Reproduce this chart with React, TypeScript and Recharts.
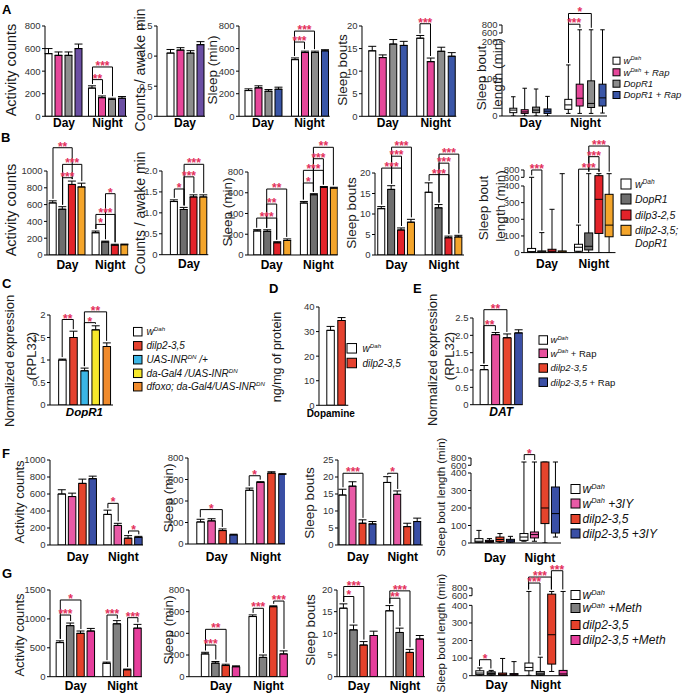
import { ComposedChart, Bar, Cell, XAxis, YAxis, ErrorBar, ReferenceLine } from 'recharts';

const FONT = '"Liberation Sans", Arial, Helvetica, sans-serif';
const STAR = '#e3305c';

const dayNight = ['Day', 'Night'];

// ---------- A ----------
const aColors = ['#ffffff', '#e6479a', '#8d8d8d', '#6b4fa3'];
const aColorsBlue = ['#ffffff', '#e6479a', '#8d8d8d', '#3a56a7'];
const aLegend = [['w', '^Dah'], ['w', '^Dah', ' + Rap'], ['DopR1'], ['DopR1 + Rap']];
const aActivity = [[555, 540, 540, 600], [250, 165, 150, 160]];
const aActivityErr = [[45, 30, 30, 40], [20, 15, 10, 15]];
const aCounts = [[1.05, 1.1, 1.05, 1.19]];
const aCountsErr = [[0.06, 0.04, 0.04, 0.05]];
const aSleep = [[228, 252, 222, 240], [502, 565, 565, 580]];
const aSleepErr = [[15, 18, 15, 18], [15, 12, 12, 10]];
const aBouts = [[14.5, 13.0, 16.0, 15.7], [17.3, 12.1, 14.4, 13.3]];
const aBoutsErr = [[1.0, 0.6, 1.0, 0.9], [0.6, 0.8, 0.9, 0.8]];
// [min, q1, median, q3, max]
const aBoutLen = [
  [[0, 9, 16, 21, 52], [0, 7, 11, 17, 75], [0, 9, 16, 24, 73], [0, 7, 13, 19, 53]],
  [[7, 18, 30, 45, 138], [7, 27, 48, 86, 680], [7, 23, 34, 95, 680], [8, 27, 49, 86, 680]],
];
// significance: [group, bar a, bar b, bracket level (axis units), stars]
const aActivitySig = [[1, 0, 1, 325, '**'], [1, 0, 2, 437, '***']];
const aSleepSig = [[1, 0, 1, 658, '***'], [1, 0, 2, 755, '***']];
const aBoutsSig = [[1, 0, 1, 20.5, '***']];
const aBoutLenSig = [[1, 0, 1, 248, '***'], [1, 0, 2, 277, '*']];

// ---------- B ----------
const bColors = ['#ffffff', '#6e6e6e', '#e3232a', '#f4a52b'];
const bLegend = [['w', '^Dah'], ['DopR1'], ['dilp3-2,5'], ['dilp2-3,5;', '|DopR1']];
const bActivity = [[620, 545, 840, 810], [265, 155, 118, 122]];
const bActivityErr = [[25, 30, 40, 45], [20, 10, 10, 8]];
const bActivitySig = [[0, 0, 2, 1277, '**'], [0, 1, 3, 1079, '***'], [0, 1, 2, 920, '***'], [1, 1, 2, 730, '*'], [1, 0, 2, 483, '***'], [1, 0, 1, 364, '*']];
const bCounts = [[1.27, 1.08, 1.38, 1.38]];
const bCountsErr = [[0.04, 0.05, 0.05, 0.05]];
const bCountsSig = [[0, 0, 1, 1.57, '*'], [0, 1, 2, 1.86, '***'], [0, 1, 3, 2.16, '***']];
const bSleep = [[232, 228, 118, 140], [501, 581, 652, 645]];
const bSleepErr = [[12, 15, 10, 15], [15, 10, 8, 8]];
const bSleepSig = [[0, 0, 2, 356, '***'], [0, 1, 2, 491, '**'], [0, 1, 3, 636, '**'], [1, 0, 1, 694, '*'], [1, 0, 2, 816, '***'], [1, 1, 2, 928, '***'], [1, 1, 3, 1038, '**']];
const bBouts = [[11.3, 16.0, 6.1, 8.0], [15.3, 11.5, 4.2, 4.4]];
const bBoutsErr = [[0.5, 0.9, 0.5, 0.7], [2.3, 0.8, 0.4, 0.4]];
const bBoutsSig = [[0, 0, 2, 21.2, '***'], [0, 1, 2, 24.1, '***'], [0, 1, 3, 26.3, '***'], [1, 0, 2, 19.6, '***'], [1, 1, 2, 22.4, '***'], [1, 1, 3, 24.6, '***']];
const bBoutLen = [
  [[0, 2, 6, 25, 600], [0, 1, 4, 10, 120], [0, 2, 8, 20, 260], [0, 1, 4, 10, 700]],
  [[5, 8, 32, 50, 165], [0, 16, 38, 118, 700], [0, 115, 320, 645, 700], [0, 95, 165, 350, 700]],
];
const bBoutLenSig = [[0, 0, 1, 496, '***'], [1, 0, 2, 501, '***'], [1, 1, 2, 576, '***'], [1, 1, 3, 640, '***']];

// ---------- C / D / E ----------
const cColors = ['#ffffff', '#e5422f', '#3bb6e6', '#f6e82b', '#f08b2d'];
const cLegend = [['w', '^Dah'], ['dilp2-3,5'], ['UAS-INR', '^DN', ' /+'], ['da-Gal4 /UAS-INR', '^DN'], ['dfoxo; da-Gal4/UAS-INR', '^DN']];
const cExpr = [[1.0, 1.5, 0.76, 1.67, 1.3]];
const cExprErr = [[0.02, 0.14, 0.06, 0.09, 0.08]];
const cSig = [[0, 0, 1, 1.9, '**'], [0, 2, 3, 1.83, '*'], [0, 2, 4, 2.07, '**']];

const dColors = ['#ffffff', '#e5422f'];
const dLegend = [['w', '^Dah'], ['dilp2-3,5']];
const dDopamine = [[30.5, 34.5]];
const dDopamineErr = [[1.6, 1.2]];

const eColors = ['#ffffff', '#e8509e', '#e8452e', '#3b4fa5'];
const eLegend = [['w', '^Dah'], ['w', '^Dah', '~ + Rap'], ['dilp2-3,5'], ['dilp2-3,5', '~ + Rap']];
const eDat = [[1.01, 2.02, 1.93, 2.07]];
const eDatErr = [[0.12, 0.06, 0.11, 0.09]];
const eSig = [[0, 0, 1, 2.28, '**'], [0, 0, 2, 2.74, '**']];

// ---------- F ----------
const fColors = ['#ffffff', '#e85aa6', '#e5442d', '#3a4fa5'];
const fLegend = [['w', '^Dah'], ['w', '^Dah', ' +3IY'], ['dilp2-3,5'], ['dilp2-3,5 +3IY']];
const fActivity = [[600, 570, 725, 780], [360, 230, 80, 90]];
const fActivityErr = [[50, 40, 50, 30], [50, 25, 30, 12]];
const fActivitySig = [[1, 0, 1, 490, '*'], [1, 2, 3, 165, '*']];
const fSleep = [[205, 215, 125, 85], [500, 572, 660, 648]];
const fSleepErr = [[25, 20, 15, 6], [20, 8, 12, 6]];
const fSleepSig = [[0, 0, 2, 320, '*'], [1, 0, 1, 635, '*']];
const fBouts = [[14.7, 17.3, 6.4, 6.2], [18.4, 14.9, 5.4, 6.9]];
const fBoutsErr = [[1.7, 1.3, 1.0, 0.7], [1.7, 1.0, 1.0, 1.0]];
const fBoutsSig = [[0, 0, 2, 21.1, '***'], [1, 0, 1, 21.1, '*']];
const fBoutLen = [
  [[0, 4, 10, 25, 72], [0, 4, 9, 15, 25], [0, 8, 20, 34, 54], [0, 5, 12, 21, 38]],
  [[10, 15, 34, 54, 690], [10, 29, 48, 63, 690], [0, 111, 200, 690, 690], [34, 57, 168, 320, 690]],
];
const fBoutLenSig = [[1, 0, 1, 505, '*']];

// ---------- G ----------
const gColors = ['#ffffff', '#808080', '#e5412b', '#e63e9c'];
const gLegend = [['w', '^Dah'], ['w', '^Dah', ' +Meth'], ['dilp2-3,5'], ['dilp2-3,5 +Meth']];
const gActivity = [[590, 883, 750, 790], [232, 915, 120, 840]];
const gActivityErr = [[30, 45, 40, 45], [20, 55, 12, 65]];
const gActivitySig = [[0, 0, 1, 1067, '***'], [0, 0, 2, 1327, '*'], [1, 0, 1, 1067, '***'], [1, 2, 3, 1021, '***']];
const gSleep = [[210, 125, 103, 92], [555, 178, 646, 210]];
const gSleepErr = [[15, 15, 12, 8], [15, 22, 8, 28]];
const gSleepSig = [[0, 0, 1, 292, '***'], [0, 0, 2, 437, '**'], [1, 0, 1, 631, '***'], [1, 2, 3, 698, '***']];
const gBouts = [[15.8, 10.8, 7.3, 9.5], [15.2, 10.2, 5.6, 8.7]];
const gBoutsErr = [[1.0, 1.1, 0.8, 1.0], [1.2, 1.0, 0.7, 0.8]];
const gBoutsSig = [[0, 0, 1, 18.5, '*'], [0, 0, 2, 20.8, '***'], [1, 0, 1, 18.1, '**'], [1, 0, 2, 19.8, '***']];
const gBoutLen = [
  [[0, 6, 15, 28, 44], [0, 5, 12, 22, 30], [0, 2, 8, 15, 98], [0, 2, 6, 12, 80]],
  [[2, 28, 47, 72, 710], [0, 3, 10, 24, 105], [24, 66, 233, 640, 710], [0, 2, 10, 30, 710]],
];
const gBoutLenSig = [[0, 0, 1, 91, '*'], [1, 0, 1, 527, '***'], [1, 0, 2, 561, '***'], [1, 2, 3, 597, '***']];

// ---------- layout ----------
const W = 40;
const T = 46;
const R = 30;
const HX = 26;

type Lay = { ax: number; top: number; zero: number; end: number; o: number; p: number; g?: number; bw: number; lab: number };

const BoxShape = (p: any) => {
  const d = p.payload || p;
  const top = Math.min(p.y, p.y + p.height);
  const h = Math.abs(p.height);
  const k = d.hi > d.lo ? h / (d.hi - d.lo) : 0;
  const py = (v: number) => top + (d.hi - v) * k;
  const cx = p.x + p.width / 2;
  const cw = p.width * 0.32;
  return (
    <g>
      <line x1={cx} x2={cx} y1={py(d.hi)} y2={py(d.lo)} stroke="#000" />
      <line x1={cx - cw} x2={cx + cw} y1={py(d.hi)} y2={py(d.hi)} stroke="#000" />
      <line x1={cx - cw} x2={cx + cw} y1={py(d.lo)} y2={py(d.lo)} stroke="#000" />
      <rect x={p.x} y={py(d.q3)} width={p.width} height={Math.max(py(d.q1) - py(d.q3), 0.8)} fill={d.c} stroke="#000" />
      <line x1={p.x} x2={p.x + p.width} y1={py(d.md)} y2={py(d.md)} stroke="#000" />
    </g>
  );
};

function Panel(props: any) {
  const { lay, groups, colors, ticks, tickText, vals, errs, boxes, brk, sigs = [], xFont = {} } = props;
  const L: Lay = lay;
  const n = colors.length;
  const tf = (v: number) => {
    if (!brk || v <= brk.lo) return v;
    if (v <= 600) return brk.lo + ((v - brk.lo) / (600 - brk.lo)) * brk.s1;
    return brk.lo + brk.s1 + ((v - 600) / 200) * brk.s2;
  };
  const plotW = L.end - L.ax;
  const plotH = L.zero - L.top;
  const yMax = tf(ticks[ticks.length - 1]);
  const pad = (2 * yMax) / plotH;
  const pos = (gi: number, i: number) => L.o + gi * (n * L.p + (L.g || 0)) + i * L.p;
  const rows: any[] = [];
  groups.forEach((_: string, gi: number) =>
    colors.forEach((c: string, i: number) => {
      if (boxes) {
        const [mn, q1, md, q3, mx] = boxes[gi][i].map(tf);
        rows.push({ x: pos(gi, i), c, lo: mn, q1, md, q3, hi: mx, top: mx });
      } else {
        const v = vals[gi][i];
        const e = errs ? errs[gi][i] : 0;
        rows.push({ x: pos(gi, i), c, v, e: [0, e], top: v + e });
      }
    })
  );
  const centers = groups.map((_: string, gi: number) => (pos(gi, 0) + pos(gi, n - 1)) / 2);
  const line = { stroke: '#000', strokeWidth: 1 };
  const seg = (key: string, x1: number, y1: number, x2: number, y2: number, label?: any) => (
    <ReferenceLine key={key} segment={[{ x: x1, y: y1 }, { x: x2, y: y2 }]} stroke="#000" strokeWidth={1} ifOverflow="visible" label={label} />
  );
  return (
    <div style={{ position: 'absolute', left: L.ax - W, top: L.top - T }}>
      <ComposedChart width={W + plotW + R} height={T + plotH + HX} data={rows} margin={{ top: T, right: R, bottom: 0, left: 0 }}>
        <XAxis
          type="number"
          dataKey="x"
          domain={[0, plotW]}
          allowDataOverflow
          ticks={centers}
          interval={0}
          tickFormatter={(v: number) => {
            let best = 0;
            centers.forEach((c: number, k: number) => { if (Math.abs(c - v) < Math.abs(centers[best] - v)) best = k; });
            return groups[best];
          }}
          tickSize={0}
          tickMargin={L.lab}
          tickLine={false}
          axisLine={line}
          height={HX}
          tick={{ fill: '#000', fontSize: xFont.size || 12, fontWeight: 700, fontStyle: xFont.italic ? 'italic' : 'normal', fontFamily: FONT, dx: xFont.dx || 0 }}
        />
        <YAxis
          type="number"
          domain={[0, yMax]}
          allowDataOverflow
          ticks={ticks.map(tf)}
          interval={0}
          width={W}
          tickFormatter={(v: number) => {
            const k = ticks.findIndex((t: number) => Math.abs(tf(t) - v) < 1e-6);
            return tickText ? tickText[k] : String(ticks[k]);
          }}
          tickSize={3}
          tickMargin={1.5}
          tickLine={line}
          axisLine={brk ? false : line}
          tick={{ fill: '#333', fontSize: 9.5, fontFamily: FONT }}
        />
        {brk && seg('ax1', 0, 0, 0, brk.lo)}
        {brk && seg('ax2', 0, tf(600), 0, yMax)}
        {boxes ? (
          <Bar dataKey={(d: any) => [d.lo, d.hi]} barSize={L.bw} isAnimationActive={false} shape={(p: any) => <BoxShape {...p} />} />
        ) : (
          <Bar dataKey="v" barSize={L.bw} isAnimationActive={false} stroke="#000" strokeWidth={1}>
            {rows.map((r, k) => (
              <Cell key={k} fill={r.c} />
            ))}
            <ErrorBar dataKey="e" width={4} stroke="#000" strokeWidth={1} direction="y" />
          </Bar>
        )}
        {sigs.map((s: any, k: number) => {
          const [gi, a, b, lvl, stars] = s;
          const xa = pos(gi, a);
          const xb = pos(gi, b);
          const ya = rows[gi * n + a].top + pad;
          const yb = rows[gi * n + b].top + pad;
          return [
            seg(`h${k}`, xa, lvl, xb, lvl, { value: stars, position: 'top', offset: -3, fill: STAR, fontSize: 12, fontWeight: 700, fontFamily: FONT }),
            seg(`l${k}`, xa, lvl, xa, Math.min(ya, lvl)),
            seg(`r${k}`, xb, lvl, xb, Math.min(yb, lvl)),
          ];
        })}
      </ComposedChart>
    </div>
  );
}

const rich = (parts: string[], fs: number, tx: number) => {
  let up = false;
  const r = fs * 0.4;
  return parts.map((s, k) => {
    if (s[0] === '^') {
      up = true;
      return (
        <tspan key={k} dy={-r} fontSize={fs * 0.62}>
          {s.slice(1)}
        </tspan>
      );
    }
    const dy = up ? r : 0;
    up = false;
    if (s[0] === '|') return <tspan key={k} x={tx} dy={fs * 1.2 + dy}>{s.slice(1)}</tspan>;
    if (s[0] === '~') return <tspan key={k} dy={dy} fontStyle="normal">{s.slice(1)}</tspan>;
    return <tspan key={k} dy={dy}>{s}</tspan>;
  });
};

const LegendBlock = ({ x, tx, ys, size, fs, colors, labels }: any) => (
  <g>
    {labels.map((lab: string[], k: number) => (
      <g key={k}>
        <rect x={x} y={ys[k] - size / 2} width={size} height={size} fill={colors[k]} stroke="#000" strokeWidth={1} />
        <text x={tx} y={ys[k] + fs * 0.36} fontSize={fs} fontStyle="italic" fontFamily={FONT} fill="#111">
          {rich(lab, fs, tx)}
        </text>
      </g>
    ))}
  </g>
);

const VText = ({ x, y, size = 14, text }: any) => (
  <text transform={`translate(${x} ${y}) rotate(-90)`} textAnchor="middle" dominantBaseline="central" fontSize={size} fill="#1a1a1a" fontFamily={FONT}>
    {text}
  </text>
);

const Letter = ({ x, y, t }: any) => (
  <text x={x} y={y} fontSize={13} fontWeight={700} fontFamily={FONT} fill="#000">
    {t}
  </text>
);

const tk800 = [0, 200, 400, 600, 800];
const tkBox = [0, 100, 200, 300, 400, 600, 800];

export default function App() {
  return (
    <div style={{ position: 'absolute', left: 0, top: 0, width: 683, height: 697, background: '#fff', overflow: 'hidden' }}>
      {/* A */}
      <Panel lay={{ ax: 45, top: 25.7, zero: 116, end: 127, o: 4, p: 10, g: 3.5, bw: 7, lab: 2 }} groups={dayNight} colors={aColors} ticks={tk800} vals={aActivity} errs={aActivityErr} sigs={aActivitySig} />
      <Panel lay={{ ax: 157, top: 25.7, zero: 116, end: 205, o: 13, p: 10, bw: 7, lab: 2 }} groups={['Day']} colors={aColors} ticks={[0, 0.5, 1, 1.5]} tickText={['0', '0.5', '1.0', '1.5']} vals={aCounts} errs={aCountsErr} />
      <Panel lay={{ ax: 239.3, top: 25.7, zero: 116, end: 330, o: 9, p: 10, g: 6.5, bw: 7, lab: 2 }} groups={dayNight} colors={aColorsBlue} ticks={tk800} vals={aSleep} errs={aSleepErr} sigs={aSleepSig} />
      <Panel lay={{ ax: 361.7, top: 25.7, zero: 116, end: 456, o: 10, p: 10.5, g: 6, bw: 7, lab: 2 }} groups={dayNight} colors={aColorsBlue} ticks={[0, 5, 10, 15, 20]} vals={aBouts} errs={aBoutsErr} sigs={aBoutsSig} />
      <Panel lay={{ ax: 501.7, top: 25, zero: 116, end: 606.7, o: 11.5, p: 11.4, g: 9.4, bw: 7, lab: 2 }} groups={dayNight} colors={aColorsBlue} ticks={[0, 100, 200, 600, 800]} boxes={aBoutLen} brk={{ lo: 200, s1: 24.3, s2: 21.6 }} sigs={aBoutLenSig} />

      {/* B */}
      <Panel lay={{ ax: 46.7, top: 171.3, zero: 255.3, end: 128, o: 6, p: 9.6, g: 4.5, bw: 7, lab: 5 }} groups={dayNight} colors={bColors} ticks={[0, 200, 400, 600, 800, 1000]} vals={bActivity} errs={bActivityErr} sigs={bActivitySig} />
      <Panel lay={{ ax: 161.7, top: 171.3, zero: 255, end: 208, o: 12.3, p: 9.8, bw: 7, lab: 5 }} groups={['Day']} colors={bColors} ticks={[0, 0.5, 1, 1.5, 2]} tickText={['0', '0.5', '1.0', '1.5', '2.0']} vals={bCounts} errs={bCountsErr} sigs={bCountsSig} />
      <Panel lay={{ ax: 248.3, top: 172, zero: 255, end: 338, o: 8.7, p: 10, g: 6.7, bw: 7, lab: 5 }} groups={dayNight} colors={bColors} ticks={tk800} vals={bSleep} errs={bSleepErr} sigs={bSleepSig} />
      <Panel lay={{ ax: 375, top: 173, zero: 255, end: 464, o: 6.7, p: 9.9, g: 7.8, bw: 7, lab: 5 }} groups={dayNight} colors={bColors} ticks={[0, 5, 10, 15, 20]} vals={bBouts} errs={bBoutsErr} sigs={bBoutsSig} />
      <Panel lay={{ ax: 523.5, top: 169.7, zero: 252.3, end: 615, o: 7.7, p: 10.2, g: 6.1, bw: 8, lab: 7 }} groups={dayNight} colors={bColors} ticks={tkBox} boxes={bBoutLen} brk={{ lo: 400, s1: 52, s2: 44 }} sigs={bBoutLenSig} />

      {/* C D E */}
      <Panel lay={{ ax: 50, top: 315, zero: 405, end: 113, o: 12.2, p: 11.1, bw: 7.5, lab: 3 }} groups={['DopR1']} xFont={{ italic: true, size: 11.5 }} colors={cColors} ticks={[0, 0.5, 1, 1.5, 2]} vals={cExpr} errs={cExprErr} sigs={cSig} />
      <Panel lay={{ ax: 318.7, top: 306.7, zero: 405, end: 348, o: 11.3, p: 11, bw: 7.5, lab: 5 }} groups={['Dopamine']} xFont={{ size: 10, dx: -5 }} colors={dColors} ticks={[0, 10, 20, 30, 40]} vals={dDopamine} errs={dDopamineErr} />
      <Panel lay={{ ax: 473.3, top: 318.3, zero: 405, end: 523, o: 10.9, p: 11.5, bw: 8, lab: 3 }} groups={['DAT']} xFont={{ italic: true, size: 12 }} colors={eColors} ticks={[0, 0.5, 1, 1.5, 2, 2.5]} tickText={['0', '0.5', '1.0', '1.5', '2.0', '2.5']} vals={eDat} errs={eDatErr} sigs={eSig} />

      {/* F */}
      <Panel lay={{ ax: 50, top: 460, zero: 545, end: 143, o: 12.2, p: 10.3, g: 4.5, bw: 7.5, lab: 7.5 }} groups={dayNight} colors={fColors} ticks={[0, 200, 400, 600, 800, 1000]} vals={fActivity} errs={fActivityErr} sigs={fActivitySig} />
      <Panel lay={{ ax: 188, top: 458.3, zero: 544.3, end: 285, o: 12.3, p: 11, g: 4.9, bw: 7.5, lab: 8 }} groups={dayNight} colors={fColors} ticks={tk800} vals={fSleep} errs={fSleepErr} sigs={fSleepSig} />
      <Panel lay={{ ax: 338.3, top: 460, zero: 545, end: 423, o: 5, p: 10, g: 4.7, bw: 7, lab: 7.5 }} groups={dayNight} colors={fColors} ticks={[0, 5, 10, 15, 20, 25]} vals={fBouts} errs={fBoutsErr} sigs={fBoutsSig} />
      <Panel lay={{ ax: 471, top: 457.7, zero: 542.7, end: 561, o: 8.2, p: 10.5, g: 3, bw: 8, lab: 10 }} groups={dayNight} colors={fColors} ticks={tkBox} boxes={fBoutLen} brk={{ lo: 400, s1: 44, s2: 41.7 }} sigs={fBoutLenSig} />

      {/* G */}
      <Panel lay={{ ax: 50, top: 590, zero: 676.7, end: 142, o: 10.3, p: 10.3, g: 5.5, bw: 7.5, lab: 5 }} groups={dayNight} colors={gColors} ticks={[0, 500, 1000, 1500]} vals={gActivity} errs={gActivityErr} sigs={gActivitySig} />
      <Panel lay={{ ax: 189, top: 590, zero: 676.7, end: 288, o: 16.5, p: 10.3, g: 6.4, bw: 7.5, lab: 5 }} groups={dayNight} colors={gColors} ticks={tk800} vals={gSleep} errs={gSleepErr} sigs={gSleepSig} />
      <Panel lay={{ ax: 337, top: 590, zero: 676.7, end: 425, o: 6.7, p: 10.1, g: 5.7, bw: 7.5, lab: 5 }} groups={dayNight} colors={gColors} ticks={[0, 5, 10, 15, 20]} vals={gBouts} errs={gBoutsErr} sigs={gBoutsSig} />
      <Panel lay={{ ax: 471.7, top: 588.3, zero: 676, end: 567.7, o: 7.5, p: 11.4, g: 3.5, bw: 8, lab: 5 }} groups={dayNight} colors={gColors} ticks={tkBox} boxes={gBoutLen} brk={{ lo: 400, s1: 55, s2: 43.8 }} sigs={gBoutLenSig} />

      <svg width={683} height={697} style={{ position: 'absolute', left: 0, top: 0, pointerEvents: 'none' }}>
        <Letter x={2} y={13.5} t="A" />
        <Letter x={1} y={142} t="B" />
        <Letter x={2} y={288} t="C" />
        <Letter x={269} y={293} t="D" />
        <Letter x={413} y={293} t="E" />
        <Letter x={2} y={458} t="F" />
        <Letter x={2} y={578} t="G" />

        <VText x={11} y={70} size={14.5} text="Activity counts" />
        <VText x={140} y={70} text="Counts / awake min" />
        <VText x={212} y={70} size={13.5} text="Sleep (min)" />
        <VText x={342} y={70} size={13.5} text="Sleep bouts" />
        <VText x={481} y={78} size={13.5} text="Sleep bout" />
        <VText x={497} y={74} size={13.5} text="length (min)" />

        <VText x={11} y={210} size={14.5} text="Activity counts" />
        <VText x={140} y={213} text="Counts / awake min" />
        <VText x={227} y={212} size={13.5} text="Sleep (min)" />
        <VText x={351} y={213} size={13.5} text="Sleep bouts" />
        <VText x={483} y={208} size={13.5} text="Sleep bout" />
        <VText x={500} y={206} size={13.5} text="length (min)" />

        <VText x={9} y={361} size={13} text="Normalized expression" />
        <VText x={31} y={356} size={13} text="(RPL32)" />
        <VText x={277} y={357} size={12.5} text="ng/mg of protein" />
        <VText x={432} y={360} size={13} text="Normalized expression" />
        <VText x={449} y={356} size={13} text="(RPL32)" />

        <VText x={19} y={502} size={13} text="Activity counts" />
        <VText x={168} y={498} size={13.5} text="Sleep (min)" />
        <VText x={309} y={503} size={13.5} text="Sleep bouts" />
        <VText x={441} y={497} size={11.5} text="Sleep bout length (min)" />

        <VText x={19} y={635} size={13} text="Activity counts" />
        <VText x={168} y={630} size={13.5} text="Sleep (min)" />
        <VText x={310} y={630} size={13.5} text="Sleep bouts" />
        <VText x={441} y={633} size={11.5} text="Sleep bout length (min)" />

        <LegendBlock x={613} tx={623.5} ys={[60.7, 72.3, 83.7, 95]} size={7} fs={9.5} colors={aColorsBlue} labels={aLegend} />
        <LegendBlock x={621} tx={635} ys={[184, 199, 215, 230.3]} size={10} fs={10.5} colors={bColors} labels={bLegend} />
        <LegendBlock x={133.5} tx={146.5} ys={[331.7, 345.8, 359.7, 373.3, 386.7]} size={8.5} fs={10} colors={cColors} labels={cLegend} />
        <LegendBlock x={347} tx={362.5} ys={[348.3, 363]} size={9.5} fs={10} colors={dColors} labels={dLegend} />
        <LegendBlock x={539} tx={550.5} ys={[340, 353.3, 368, 382.2]} size={8.5} fs={9.5} colors={eColors} labels={eLegend} />
        <LegendBlock x={571} tx={582.5} ys={[489, 503.5, 519, 533.5]} size={9} fs={12} colors={fColors} labels={fLegend} />
        <LegendBlock x={571} tx={582.5} ys={[595, 608, 625, 640]} size={9} fs={12} colors={gColors} labels={gLegend} />
      </svg>
    </div>
  );
}
